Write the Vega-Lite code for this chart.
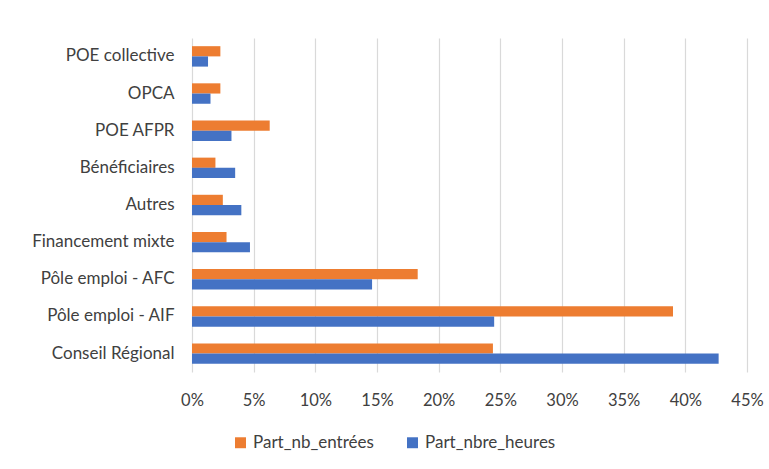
{
  "$schema": "https://vega.github.io/schema/vega-lite/v6.json",
  "width": 555,
  "height": 334,
  "autosize": {"type": "none"},
  "padding": {"left": 192, "top": 38, "right": 22, "bottom": 97},
  "background": "white",
  "config": {
    "font": "Lato",
    "view": {"stroke": null}
  },
  "data": {
    "values": [
      {"cat": "POE collective", "serie": "Part_nb_entrées", "val": 0.023},
      {"cat": "POE collective", "serie": "Part_nbre_heures", "val": 0.013},
      {"cat": "OPCA", "serie": "Part_nb_entrées", "val": 0.023},
      {"cat": "OPCA", "serie": "Part_nbre_heures", "val": 0.015},
      {"cat": "POE AFPR", "serie": "Part_nb_entrées", "val": 0.063},
      {"cat": "POE AFPR", "serie": "Part_nbre_heures", "val": 0.032},
      {"cat": "Bénéficiaires", "serie": "Part_nb_entrées", "val": 0.019},
      {"cat": "Bénéficiaires", "serie": "Part_nbre_heures", "val": 0.035},
      {"cat": "Autres", "serie": "Part_nb_entrées", "val": 0.025},
      {"cat": "Autres", "serie": "Part_nbre_heures", "val": 0.040},
      {"cat": "Financement mixte", "serie": "Part_nb_entrées", "val": 0.028},
      {"cat": "Financement mixte", "serie": "Part_nbre_heures", "val": 0.047},
      {"cat": "Pôle emploi - AFC", "serie": "Part_nb_entrées", "val": 0.183},
      {"cat": "Pôle emploi - AFC", "serie": "Part_nbre_heures", "val": 0.146},
      {"cat": "Pôle emploi - AIF", "serie": "Part_nb_entrées", "val": 0.390},
      {"cat": "Pôle emploi - AIF", "serie": "Part_nbre_heures", "val": 0.245},
      {"cat": "Conseil Régional", "serie": "Part_nb_entrées", "val": 0.244},
      {"cat": "Conseil Régional", "serie": "Part_nbre_heures", "val": 0.427}
    ]
  },
  "mark": {"type": "bar"},
  "encoding": {
    "y": {
      "field": "cat",
      "type": "nominal",
      "sort": ["POE collective", "OPCA", "POE AFPR", "Bénéficiaires", "Autres", "Financement mixte", "Pôle emploi - AFC", "Pôle emploi - AIF", "Conseil Régional"],
      "scale": {"paddingInner": 0.45, "paddingOuter": 0.22},
      "axis": {
        "title": null,
        "domain": false,
        "ticks": false,
        "labelFontSize": 17,
        "labelColor": "#404040",
        "labelPadding": 18,
        "labelLimit": 200
      }
    },
    "yOffset": {
      "field": "serie",
      "type": "nominal",
      "sort": ["Part_nb_entrées", "Part_nbre_heures"]
    },
    "x": {
      "field": "val",
      "type": "quantitative",
      "scale": {"domain": [0, 0.45], "nice": false},
      "axis": {
        "title": null,
        "format": ".0%",
        "values": [0, 0.05, 0.1, 0.15, 0.2, 0.25, 0.3, 0.35, 0.4, 0.45],
        "domain": false,
        "ticks": false,
        "grid": true,
        "gridColor": "#d9d9d9",
        "gridWidth": 1.2,
        "labelFontSize": 16.5,
        "labelColor": "#404040",
        "labelPadding": 20,
        "labelFlush": false
      }
    },
    "color": {
      "field": "serie",
      "type": "nominal",
      "scale": {"domain": ["Part_nb_entrées", "Part_nbre_heures"], "range": ["#ED7D31", "#4472C4"]},
      "legend": {
        "title": null,
        "orient": "none",
        "direction": "horizontal",
        "legendX": 40,
        "legendY": 396,
        "symbolType": "square",
        "symbolSize": 120,
        "symbolStrokeWidth": 0,
        "labelFontSize": 17,
        "labelColor": "#404040",
        "columnPadding": 30,
        "labelOffset": 4
      }
    }
  }
}
